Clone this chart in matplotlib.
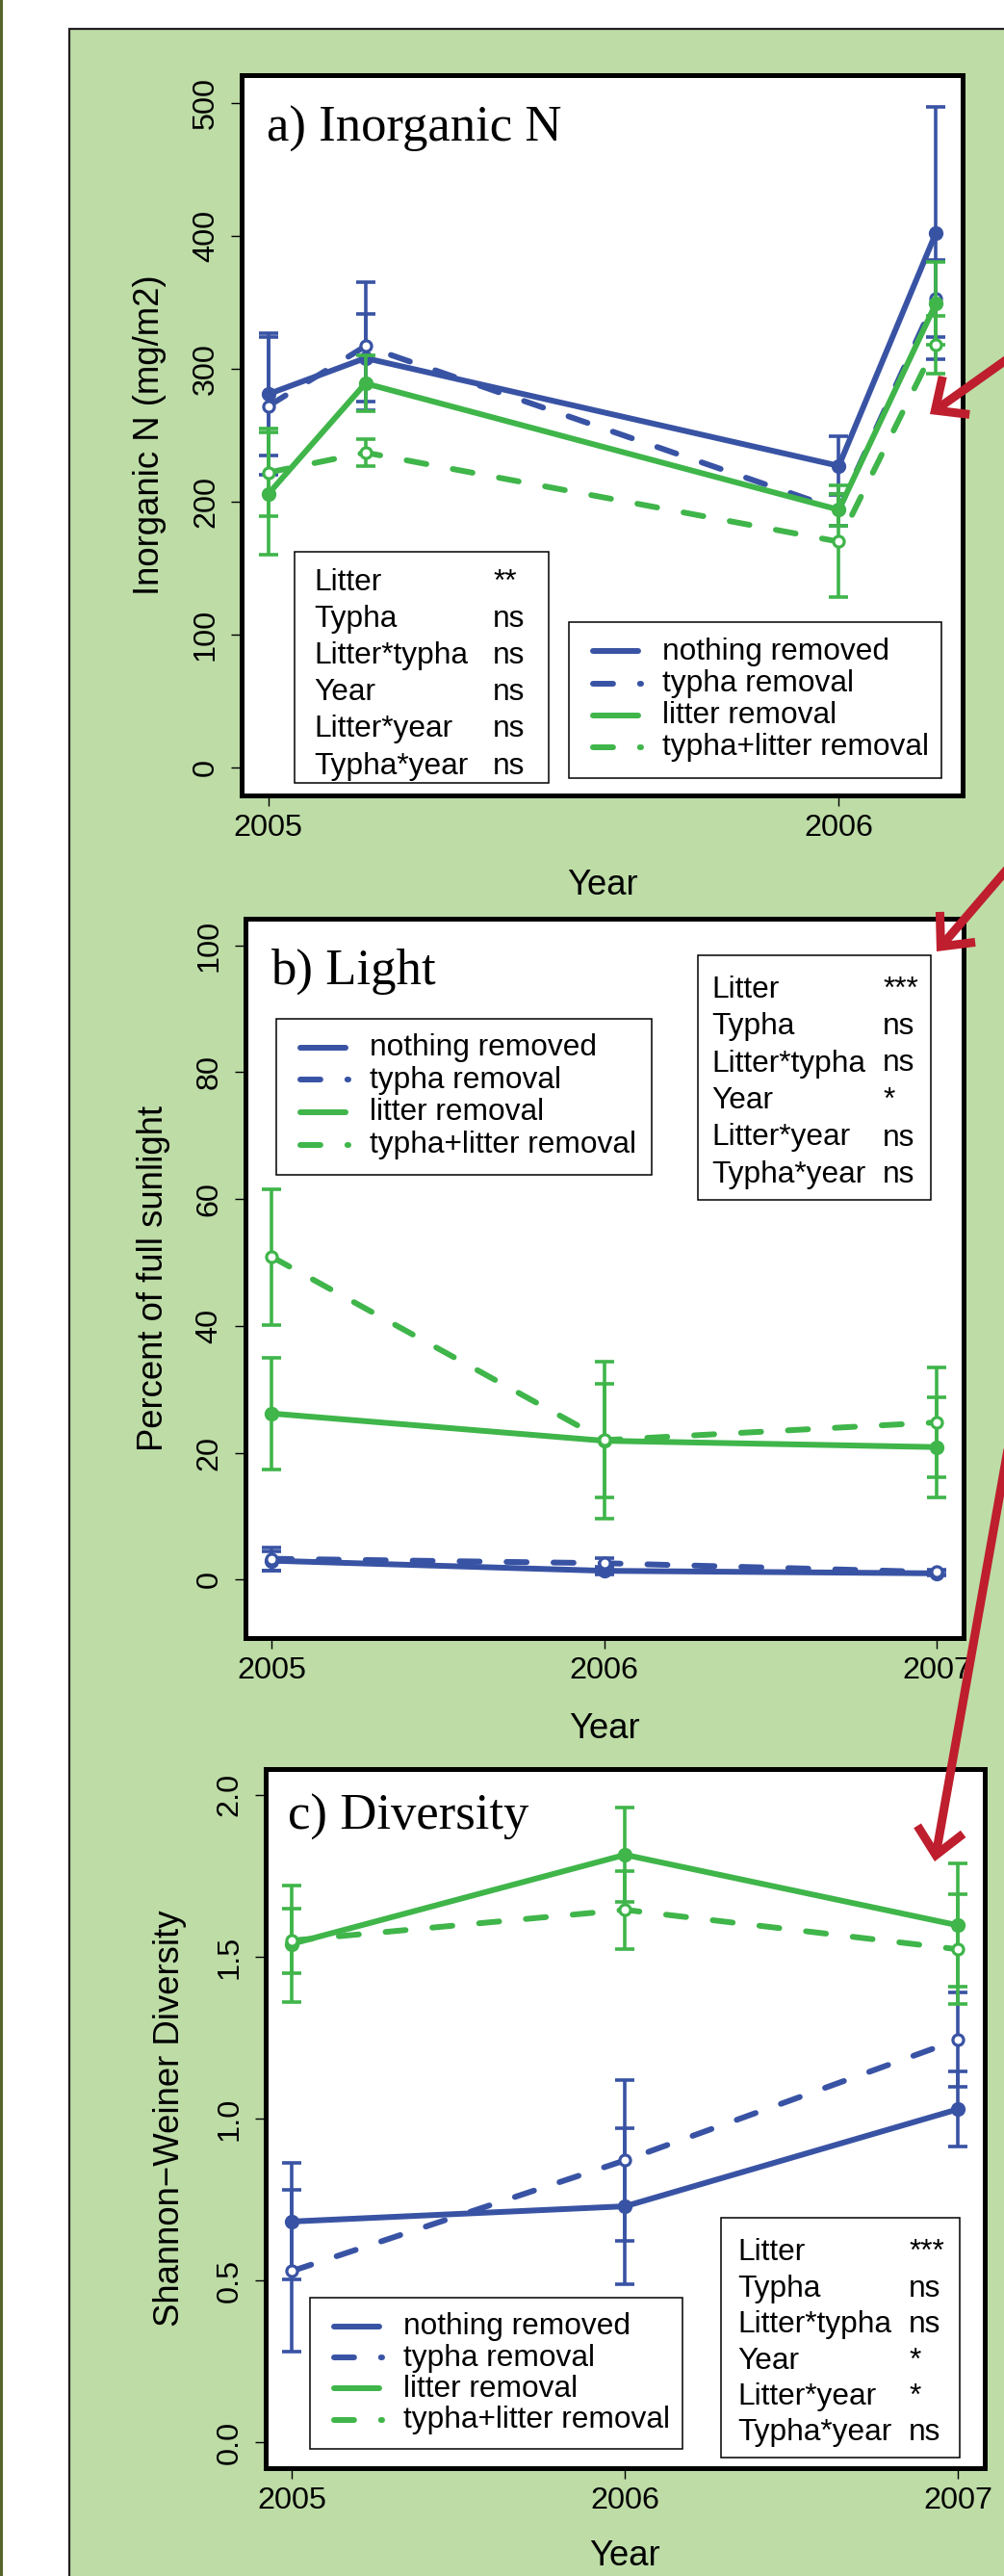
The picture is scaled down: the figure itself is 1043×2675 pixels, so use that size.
import matplotlib
matplotlib.use("Agg")
import matplotlib.pyplot as plt
from matplotlib.patches import Rectangle, FancyArrowPatch
from matplotlib.lines import Line2D

plt.rcParams['font.family'] = ['Liberation Sans', 'DejaVu Sans']

W, H = 1043, 2675
BLUE = '#3953a4'
GREEN = '#3fb54a'
RED = '#be1e2d'
PANEL = '#bddca6'

# ---- data ----
series = ["nothing removed", "typha removal", "litter removal", "typha+litter removal"]

years_n = [2005.0, 2005.17, 2006.0, 2006.17]
n_nothing = [281, 308, 227, 402]
n_typha = [272, 317, 194, 353]
n_litter = [206, 289, 194, 349]
n_both = [222, 237, 170, 318]
n_nothing_se = [46, 33, 22, 95]
n_typha_se = [52, 48, 12, 29]
n_litter_se = [46, 21, 12, 31]
n_both_se = [33, 10, 42, 22]

years = [2005, 2006, 2007]
light_nothing = [3.0, 1.4, 1.0]
light_typha = [3.3, 2.6, 1.2]
light_litter = [26.2, 21.9, 20.9]
light_both = [50.9, 22.0, 24.8]
light_nothing_se = [1.5, 0.6, 0.4]
light_typha_se = [1.8, 0.8, 0.4]
light_litter_se = [8.8, 9.0, 7.9]
light_both_se = [10.7, 12.4, 8.7]

div_nothing = [0.682, 0.729, 1.029]
div_typha = [0.529, 0.871, 1.244]
div_litter = [1.54, 1.815, 1.597]
div_both = [1.55, 1.645, 1.523]
div_nothing_se = [0.18, 0.24, 0.116]
div_typha_se = [0.25, 0.248, 0.145]
div_litter_se = [0.18, 0.147, 0.19]
div_both_se = [0.10, 0.12, 0.17]

terms = ["Litter", "Typha", "Litter*typha", "Year", "Litter*year", "Typha*year"]
sig_n = ["**", "ns", "ns", "ns", "ns", "ns"]
sig_light = ["***", "ns", "ns", "*", "ns", "ns"]
sig_div = ["***", "ns", "ns", "*", "*", "ns"]

styles = [(BLUE, False), (BLUE, True), (GREEN, False), (GREEN, True)]
LW = 4.3
DASH = (3.5, 4.67)
FS = 22.75


def fx(x):
    return x / W


def fy(y):
    return 1 - y / H


fig = plt.figure(figsize=(W / 100, H / 100), dpi=100)

# poster background
fig.add_artist(Rectangle((fx(72), fy(2760)), fx(1100) - fx(72), fy(30) - fy(2760),
                         transform=fig.transFigure, facecolor=PANEL,
                         edgecolor='#231f20', lw=1.6, zorder=-2))
fig.add_artist(Rectangle((0, 0), fx(3), 1, transform=fig.transFigure,
                         facecolor='#55652c', edgecolor='none', zorder=-2))


def panel(box, x, means, errs, ylim, yticks, yticklabels, xticks, xlim):
    x0, y0, x1, y1 = box
    ax = fig.add_axes([fx(x0), fy(y1), fx(x1) - fx(x0), fy(y0) - fy(y1)])
    for vals, err, (color, dashed) in zip(means, errs, styles):
        ax.errorbar(x, vals, yerr=err, fmt='none', ecolor=color,
                    elinewidth=2.6, capsize=7.5, capthick=2.6)
        if dashed:
            ax.plot(x, vals, color=color, lw=LW, dashes=DASH,
                    dash_capstyle='round', marker='o', ms=8,
                    mfc='white', mec=color, mew=2.3)
        else:
            ax.plot(x, vals, color=color, lw=LW, solid_capstyle='round',
                    marker='o', ms=10, mfc=color, mec=color)
    ax.set_xlim(*xlim)
    ax.set_ylim(*ylim)
    ax.set_xticks(xticks)
    ax.set_xticklabels([str(t) for t in xticks])
    ax.set_yticks(yticks)
    ax.set_yticklabels(yticklabels, rotation=90, va='center')
    ax.tick_params(direction='out', length=7.9, width=1, labelsize=23.3,
                   top=False, right=False)
    ax.tick_params(axis='x', pad=6)
    ax.tick_params(axis='y', pad=8)
    for s in ax.spines.values():
        s.set_linewidth(3.6)
    return ax


def labels(box, title, title_xy, ylabel, ylabel_x, xlabel_y):
    x0, y0, x1, y1 = box
    fig.text(fx(title_xy[0]), fy(title_xy[1]), title, family='Liberation Serif',
             fontsize=38, ha='left', va='baseline')
    fig.text(fx(ylabel_x), fy((y0 + y1) / 2), ylabel, rotation=90,
             rotation_mode='anchor', ha='center', va='baseline', fontsize=26.3)
    fig.text(fx((x0 + x1) / 2), fy(xlabel_y), "Year", ha='center',
             va='baseline', fontsize=26.3)


def stats_box(rect, sigs, x_left, x_right, base, step):
    bx0, by0, bx1, by1 = rect
    fig.add_artist(Rectangle((fx(bx0), fy(by1)), fx(bx1) - fx(bx0), fy(by0) - fy(by1),
                             transform=fig.transFigure, facecolor='white',
                             edgecolor='black', lw=1.1, zorder=4))
    for i, (t, s) in enumerate(zip(terms, sigs)):
        fig.text(fx(x_left), fy(base + i * step), t, fontsize=FS,
                 va='baseline', zorder=6)
        fig.text(fx(x_right), fy(base + i * step), s, fontsize=FS,
                 va='baseline', zorder=6)


def legend_box(rect, x_line, x_text, base, step):
    bx0, by0, bx1, by1 = rect
    fig.add_artist(Rectangle((fx(bx0), fy(by1)), fx(bx1) - fx(bx0), fy(by0) - fy(by1),
                             transform=fig.transFigure, facecolor='white',
                             edgecolor='black', lw=1.1, zorder=4))
    for i, (name, (color, dashed)) in enumerate(zip(series, styles)):
        yb = base + i * step
        yl = yb - 8.5
        kw = dict(transform=fig.transFigure, color=color, lw=LW, zorder=6)
        if dashed:
            ln = Line2D([fx(x_line + 3), fx(x_line + 53)], [fy(yl), fy(yl)],
                        dashes=DASH, dash_capstyle='round', **kw)
        else:
            ln = Line2D([fx(x_line + 3), fx(x_line + 50)], [fy(yl), fy(yl)],
                        solid_capstyle='round', **kw)
        fig.add_artist(ln)
        fig.text(fx(x_text), fy(yb), name, fontsize=FS, va='baseline', zorder=6)


# a) Inorganic N
box_a = (251, 78, 1000, 826)
panel(box_a, years_n, [n_nothing, n_typha, n_litter, n_both],
      [n_nothing_se, n_typha_se, n_litter_se, n_both_se],
      (-20.8, 520.8), [0, 100, 200, 300, 400, 500],
      ["0", "100", "200", "300", "400", "500"], [2005, 2006], (2004.953, 2006.217))
labels(box_a, "a) Inorganic N", (277, 146.5), "Inorganic N (mg/m2)", 165, 929)
stats_box((306, 573, 570, 813), sig_n, 326, 512, 612.6, 38.2)
legend_box((591, 646, 978, 808), 613, 688, 685, 33.1)

# b) Light
box_b = (254.6, 954, 1001, 1701)
panel(box_b, years, [light_nothing, light_typha, light_litter, light_both],
      [light_nothing_se, light_typha_se, light_litter_se, light_both_se],
      (-9.2, 104.2), [0, 20, 40, 60, 80, 100],
      ["0", "20", "40", "60", "80", "100"], [2005, 2006, 2007], (2004.92, 2007.08))
labels(box_b, "b) Light", (281, 1022), "Percent of full sunlight", 169, 1805)
legend_box((287, 1058, 677, 1220), 309, 384, 1096, 33.7)
stats_box((724.5, 992, 967.3, 1246), sig_light, 739, 917, 1035.5, 38.5)

# c) Diversity
box_c = (275.7, 1837, 1023, 2563)
panel(box_c, years, [div_nothing, div_typha, div_litter, div_both],
      [div_nothing_se, div_typha_se, div_litter_se, div_both_se],
      (-0.08, 2.08), [0, 0.5, 1.0, 1.5, 2.0],
      ["0.0", "0.5", "1.0", "1.5", "2.0"], [2005, 2006, 2007], (2004.92, 2007.08))
labels(box_c, "c) Diversity", (299, 1900), "Shannon\u2212Weiner Diversity", 186, 2664)
legend_box((322.4, 2386.4, 709.3, 2542.5), 344, 419.4, 2424.4, 32.2)
stats_box((749, 2303, 997, 2552), sig_div, 766, 944, 2347.4, 37.4)

# red arrows coming in from the right
arrows = [((1052, 369), (966, 430)),
          ((1052, 896), (973, 988)),
          ((1047, 1505), (971, 1933))]
for start, tip in arrows:
    fig.add_artist(FancyArrowPatch((fx(start[0]), fy(start[1])), (fx(tip[0]), fy(tip[1])),
                                   transform=fig.transFigure,
                                   arrowstyle='->,head_length=0.96,head_width=0.87',
                                   mutation_scale=20, lw=6.5, color=RED,
                                   shrinkA=0, shrinkB=0, capstyle='butt',
                                   joinstyle='miter', zorder=7))

fig.savefig("out.png", dpi=100)
